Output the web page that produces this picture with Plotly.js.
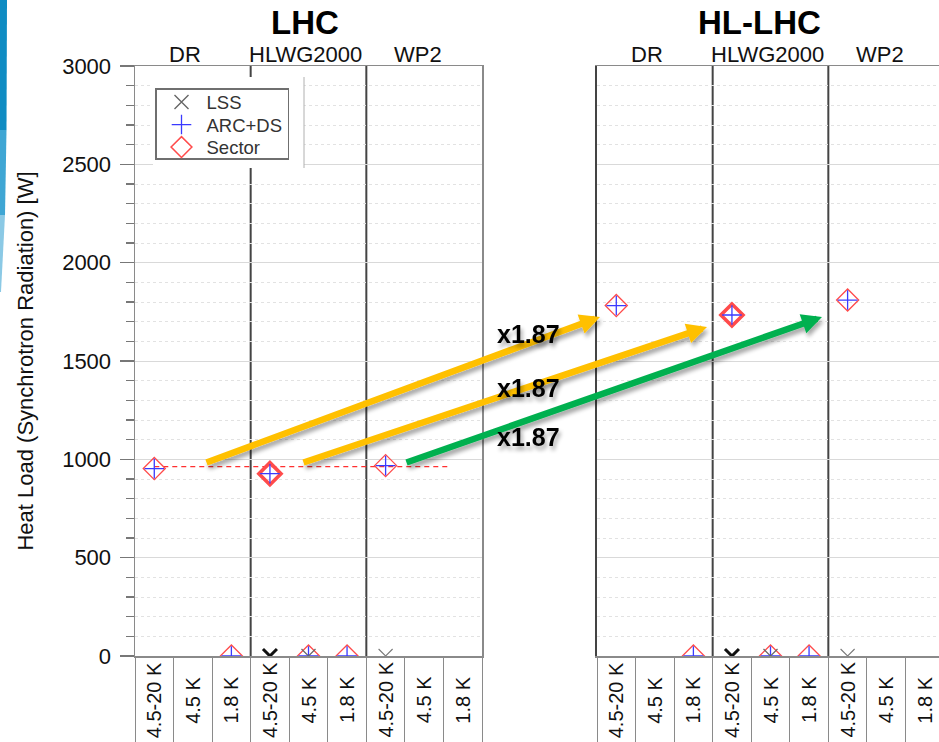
<!DOCTYPE html>
<html>
<head>
<meta charset="utf-8">
<script src="https://cdn.plot.ly/plotly-3.0.1.min.js"></script>
<style>
  html, body { margin: 0; padding: 0; background: #ffffff; }
  #chart { width: 939px; height: 742px; }
</style>
</head>
<body>
<svg width="0" height="0" style="position:absolute">
  <defs>
    <filter id="soft-shadow" x="-20%" y="-50%" width="140%" height="200%">
      <feGaussianBlur in="SourceAlpha" stdDeviation="2"/>
      <feOffset dx="2" dy="4" result="blur"/>
      <feComponentTransfer><feFuncA type="linear" slope="0.35"/></feComponentTransfer>
      <feMerge><feMergeNode/><feMergeNode in="SourceGraphic"/></feMerge>
    </filter>
  </defs>
</svg>
<div id="chart"></div>
<script>
// ---- categories -------------------------------------------------------
const machines = ['LHC', 'HL-LHC'];
const scenarios = ['DR', 'HLWG2000', 'WP2'];
const temperatures = ['4.5-20 K', '4.5 K', '1.8 K'];

// ---- heat load (W), one value per scenario/temperature slot -----------
// order: DR(4.5-20 K, 4.5 K, 1.8 K), HLWG2000(...), WP2(...)
const lhcLSS    = [null, null, null, 0, 0, null, 0, null, null];
const lhcArcDS  = [953, null, 0, 927, 0, 0, 968, null, null];
const lhcSector = [953, null, 0, 927, 0, 0, 968, null, null];

const hlLSS    = [null, null, null, 0, 0, null, 0, null, null];
const hlArcDS  = [1782, null, 0, 1734, 0, 0, 1810, null, null];
const hlSector = [1782, null, 0, 1734, 0, 0, 1810, null, null];

// common LHC level drawn as a dashed guide
const lhcLevel = 963;
const scaleLabel = 'x1.87';

// ---- styling ----------------------------------------------------------
const FONT = 'Liberation Sans, Arial, Helvetica, sans-serif';
const categoryLabels = scenarios.flatMap(() => temperatures);
const slots = categoryLabels.map((_, i) => i);
const boundaries = [...slots.map(i => i - 0.5), slots.length - 0.5];

// emphasised (overlapping) points in the HLWG2000 warm column
const sectorWidth = [1.3, 1.3, 1.3, 3.6, 1.3, 1.3, 1.3, 1.3, 1.3];
const lssColor = ['#666', '#666', '#666', '#111', '#666', '#666', '#777', '#666', '#666'];
const lssWidth = [1.2, 1.2, 1.2, 3, 1.2, 1.2, 1.1, 1.2, 1.2];

// pixel -> paper helpers for the page frame (plot area 135..939 x 66..656)
const PL = 135, PW = 804, PB = 656, PH = 590;
const px = v => (v - PL) / PW;
const py = v => (PB - v) / PH;

function panel(xa, ya, lss, arc, sector, legend) {
  return [
    {
      type: 'scatter', mode: 'markers', name: 'Sector', legendrank: 3,
      x: slots, y: sector, xaxis: xa, yaxis: ya, showlegend: legend,
      marker: { symbol: 'diamond-open', size: 17, color: '#ff4b4b',
                line: { color: '#ff4b4b', width: sectorWidth } }
    },
    {
      type: 'scatter', mode: 'markers', name: 'ARC+DS', legendrank: 2,
      x: slots, y: arc, xaxis: xa, yaxis: ya, showlegend: legend,
      marker: { symbol: 'cross-thin-open', size: 14, color: '#3a3aff',
                line: { color: '#3a3aff', width: 1.3 } }
    },
    {
      type: 'scatter', mode: 'markers', name: 'LSS', legendrank: 1,
      x: slots, y: lss, xaxis: xa, yaxis: ya, showlegend: legend,
      marker: { symbol: 'x-thin-open', size: 14, color: lssColor,
                line: { color: lssColor, width: lssWidth } }
    }
  ];
}

const traces = [
  {
    type: 'scatter', mode: 'lines', x: [0, 7.6], y: [lhcLevel, lhcLevel],
    xaxis: 'x', yaxis: 'y', showlegend: false, hoverinfo: 'skip',
    line: { color: '#ff3030', width: 1.2, dash: '5px,4px' }
  },
  ...panel('x', 'y', lhcLSS, lhcArcDS, lhcSector, true),
  ...panel('x2', 'y2', hlLSS, hlArcDS, hlSector, false)
];

function xAxis(domain, range, anchor) {
  return {
    domain, range, anchor, type: 'linear',
    tickvals: boundaries, showticklabels: false,
    ticks: 'outside', ticklen: 86, tickwidth: 1, tickcolor: '#8a8a8a',
    showline: true, linecolor: '#8a8a8a', linewidth: 1.5, mirror: true,
    showgrid: false, zeroline: false, fixedrange: true
  };
}

const minorGrid = { dtick: 100, showgrid: true, gridcolor: '#e2e2e2', griddash: 'dot', gridwidth: 1 };

const layout = {
  width: 939, height: 742,
  margin: { l: PL, r: 0, t: 66, b: 86 },
  paper_bgcolor: '#ffffff', plot_bgcolor: '#ffffff',
  font: { family: FONT, color: '#222', size: 18 },
  showlegend: true,
  legend: {
    x: px(155), y: py(88), xanchor: 'left', yanchor: 'top',
    bgcolor: '#ffffff', bordercolor: '#6f6f6f', borderwidth: 1.5,
    font: { family: FONT, size: 18.5, color: '#333' },
    itemwidth: 40, tracegroupgap: 0
  },
  xaxis: xAxis([0, px(482)], [-0.5, 8.5], 'y'),
  xaxis2: xAxis([px(597), 1], [-0.5, -0.5 + 342 / (347 / 9)], 'y2'),
  yaxis: {
    domain: [0, 1], range: [0, 3000], anchor: 'x',
    tickvals: [0, 500, 1000, 1500, 2000, 2500, 3000],
    ticks: 'outside', ticklen: 14, tickwidth: 1.5, tickcolor: '#777',
    tickfont: { family: FONT, size: 22, color: '#111' },
    ticklabelstandoff: 4,
    showline: true, linecolor: '#8a8a8a', linewidth: 1.5, mirror: true,
    showgrid: true, gridcolor: '#d9d9d9', gridwidth: 1, zeroline: false,
    minor: Object.assign({ ticks: 'outside', ticklen: 8, tickwidth: 1.2, tickcolor: '#777' }, minorGrid),
    title: { text: 'Heat Load (Synchrotron Radiation) [W]', standoff: 22,
             font: { family: FONT, size: 22, color: '#111' } },
    fixedrange: true
  },
  yaxis2: {
    domain: [0, 1], range: [0, 3000], anchor: 'x2', matches: 'y',
    tickvals: [0, 500, 1000, 1500, 2000, 2500, 3000],
    showticklabels: false, ticks: '',
    showline: true, linecolor: '#444', linewidth: 2, mirror: false,
    showgrid: true, gridcolor: '#d9d9d9', gridwidth: 1, zeroline: false,
    minor: Object.assign({ ticks: '' }, minorGrid),
    fixedrange: true
  },
  shapes: [],
  annotations: []
};

// scenario dividers inside both panels
['x', 'x2'].forEach(xr => {
  [2.5, 5.5].forEach(b => {
    layout.shapes.push({ type: 'line', xref: xr, yref: 'paper', x0: b, x1: b, y0: 0, y1: 1,
                         layer: 'between', line: { color: '#444', width: 2 } });
  });
});
// cleared area behind the legend
layout.shapes.push({ type: 'rect', xref: 'paper', yref: 'paper', layer: 'above',
                     x0: px(153), x1: px(304), y0: py(168), y1: py(77),
                     fillcolor: '#ffffff', line: { width: 0 } });
layout.shapes.push({ type: 'line', xref: 'paper', yref: 'paper', layer: 'above',
                     x0: px(304), x1: px(304), y0: py(168), y1: py(77),
                     line: { color: '#b0b0b0', width: 1 } });

// blue slide edge at the top-left
const edge = [
  { pts: [[0, 0], [7, 0], [6.5, 130], [0, 130]], color: '#0f8cc3' },
  { pts: [[0, 130], [6.5, 130], [5, 215], [0, 215]], color: '#3fa6d4' },
  { pts: [[0, 215], [5, 215], [1, 292], [0, 292]], color: '#8bc9e5' }
];
edge.forEach(e => {
  const d = e.pts.map((p, i) => (i ? 'L' : 'M') + px(p[0]) + ',' + py(p[1])).join(' ') + ' Z';
  layout.shapes.push({ type: 'path', xref: 'paper', yref: 'paper', path: d,
                       fillcolor: e.color, line: { width: 0 }, layer: 'above' });
});

// machine titles
const titleX = [px(305), px(759)];
machines.forEach((m, i) => {
  layout.annotations.push({ text: '<b>' + m + '</b>', xref: 'paper', yref: 'paper',
    x: titleX[i], y: py(23), xanchor: 'center', yanchor: 'middle', showarrow: false,
    font: { family: FONT, size: 33, color: '#000' } });
});

// scenario labels above each panel
const scenarioPos = [0.8, 3.93, 6.85];
['x', 'x2'].forEach(xr => {
  scenarios.forEach((s, i) => {
    layout.annotations.push({ text: s, xref: xr, yref: 'paper', x: scenarioPos[i], y: py(55),
      xanchor: 'center', yanchor: 'middle', showarrow: false,
      font: { family: FONT, size: 22, color: '#111' } });
  });
});

// rotated temperature labels under each slot
['x', 'x2'].forEach(xr => {
  categoryLabels.forEach((t, i) => {
    layout.annotations.push({ text: t, xref: xr, yref: 'paper', x: slots[i], y: py(700),
      textangle: -90, xanchor: 'center', yanchor: 'middle', showarrow: false,
      font: { family: FONT, size: 20, color: '#111' } });
  });
});

// scaling arrows LHC -> HL-LHC
const arrows = [
  { head: [600, 317], tail: [205, 463], color: '#ffc000' },
  { head: [707, 327], tail: [302, 463], color: '#ffc000' },
  { head: [822, 317], tail: [405, 463], color: '#00b050' }
];
arrows.forEach(a => {
  layout.annotations.push({ text: '', xref: 'paper', yref: 'paper',
    x: px(a.head[0]), y: py(a.head[1]), axref: 'pixel', ayref: 'pixel',
    ax: a.tail[0] - a.head[0], ay: a.tail[1] - a.head[1],
    showarrow: true, arrowhead: 2, arrowsize: 0.62, arrowwidth: 6.5, arrowcolor: a.color });
});
[334, 388, 437].forEach(yv => {
  layout.annotations.push({ text: '<b>' + scaleLabel + '</b>', xref: 'paper', yref: 'paper',
    x: px(528), y: py(yv), xanchor: 'center', yanchor: 'middle', showarrow: false,
    font: { family: FONT, size: 25, color: '#000' } });
});

// tighten legend rows to a compact pitch, lifting the first row and trimming the frame
function compactLegend(pitch, lift, trim) {
  const items = Array.from(document.querySelectorAll('.legend .traces'));
  if (items.length < 2) return;
  const parse = el => {
    const m = /translate\(\s*([-\d.]+)[ ,]+([-\d.]+)/.exec(el.getAttribute('transform') || '');
    return m ? [parseFloat(m[1]), parseFloat(m[2])] : [0, 0];
  };
  const pos = items.map(parse);
  const order = items.map((el, i) => i).sort((a, b) => pos[a][1] - pos[b][1]);
  const y0 = pos[order[0]][1];
  const oldPitch = (pos[order[order.length - 1]][1] - y0) / (order.length - 1);
  order.forEach((idx, k) => {
    items[idx].setAttribute('transform',
      'translate(' + pos[idx][0] + ',' + (y0 - lift + k * pitch) + ')');
  });
  const shrink = (oldPitch - pitch) * (order.length - 1) + trim;
  document.querySelectorAll('.legend rect.bg').forEach(r => {
    const h = parseFloat(r.getAttribute('height'));
    r.setAttribute('height', h - shrink);
  });
}

Plotly.newPlot('chart', traces, layout, { staticPlot: true, displayModeBar: false }).then(() => {
  compactLegend(22.5, 6, 14);
  document.querySelectorAll('.annotation-arrow-g').forEach(g => g.setAttribute('filter', 'url(#soft-shadow)'));
  document.querySelectorAll('.annotation-text-g text').forEach(t => {
    if (t.textContent === scaleLabel) t.setAttribute('filter', 'url(#soft-shadow)');
  });
});
</script>
</body>
</html>
